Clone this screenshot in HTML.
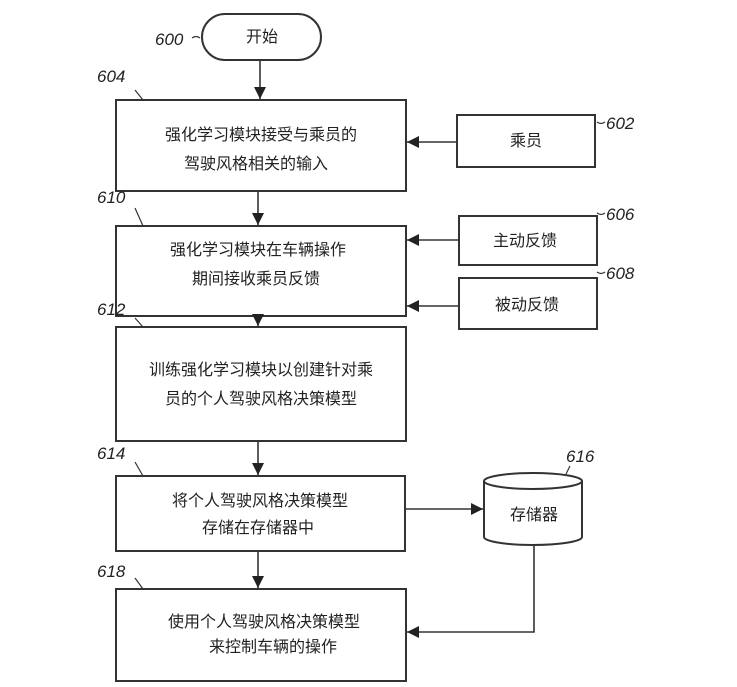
<!DOCTYPE html>
<html><head><meta charset="utf-8"><style>
body{margin:0;background:#fff;}
svg text{font-family:"Liberation Sans","Noto Sans CJK SC",sans-serif;fill:#222;}
.t{font-size:16px;text-anchor:middle;}
.n{font-size:17px;font-style:italic;}
</style></head><body>
<svg width="737" height="682" viewBox="0 0 737 682" xmlns="http://www.w3.org/2000/svg">
<defs><marker id="a" viewBox="0 0 10 10" refX="10" refY="5" markerWidth="12" markerHeight="12" markerUnits="userSpaceOnUse" orient="auto"><path d="M0,0L10,5L0,10z" fill="#222"/></marker></defs>
<g stroke="#333" stroke-width="2" fill="none">
<rect x="202" y="14" width="119" height="46" rx="23"/>
<rect x="116" y="100" width="290" height="91"/>
<rect x="457" y="115" width="138" height="52"/>
<rect x="116" y="226" width="290" height="90"/>
<rect x="459" y="216" width="138" height="49"/>
<rect x="459" y="278" width="138" height="51"/>
<rect x="116" y="327" width="290" height="114"/>
<rect x="116" y="476" width="289" height="75"/>
<rect x="116" y="589" width="290" height="92"/>
<path d="M484,481 V537 A49,8 0 0 0 582,537 V481"/>
<ellipse cx="533" cy="481" rx="49" ry="8"/>
<g stroke-width="1.6" marker-end="url(#a)">
<line x1="260" y1="60" x2="260" y2="99"/>
<line x1="258" y1="191" x2="258" y2="225"/>
<line x1="258" y1="316" x2="258" y2="326"/>
<line x1="258" y1="441" x2="258" y2="475"/>
<line x1="258" y1="551" x2="258" y2="588"/>
<line x1="457" y1="142" x2="407" y2="142"/>
<line x1="459" y1="240" x2="407" y2="240"/>
<line x1="459" y1="306" x2="407" y2="306"/>
<line x1="405" y1="509" x2="483" y2="509"/>
<polyline points="534,545 534,632 407,632"/>
</g>
<g stroke-width="1.2">
<path d="M200,38 q-4,-3 -8,0"/>
<path d="M135,90 l8,10"/><path d="M135,208 l8,18"/><path d="M135,318 l8,9"/><path d="M135,462 l8,14"/><path d="M135,578 l8,11"/>
<path d="M597,122 q4,3 8,0"/><path d="M597,213 q4,3 8,0"/><path d="M597,272 q4,3 8,0"/><path d="M570,466 l-4,8"/>
</g>
</g>
<text class="t" x="261" y="140">强化学习模块接受与乘员的</text>
<text class="t" x="256" y="169">驾驶风格相关的输入</text>
<text class="t" x="262" y="42">开始</text>
<text class="t" x="526" y="146">乘员</text>
<text class="t" x="258" y="255">强化学习模块在车辆操作</text>
<text class="t" x="256" y="284">期间接收乘员反馈</text>
<text class="t" x="525" y="246">主动反馈</text>
<text class="t" x="527" y="310">被动反馈</text>
<text class="t" x="261" y="375">训练强化学习模块以创建针对乘</text>
<text class="t" x="261" y="404">员的个人驾驶风格决策模型</text>
<text class="t" x="260" y="506">将个人驾驶风格决策模型</text>
<text class="t" x="258" y="533">存储在存储器中</text>
<text class="t" x="534" y="520">存储器</text>
<text class="t" x="264" y="627">使用个人驾驶风格决策模型</text>
<text class="t" x="273" y="652">来控制车辆的操作</text>
<text class="n" x="155" y="45">600</text>
<text class="n" x="97" y="82">604</text>
<text class="n" x="97" y="203">610</text>
<text class="n" x="97" y="315">612</text>
<text class="n" x="97" y="459">614</text>
<text class="n" x="97" y="577">618</text>
<text class="n" x="606" y="129">602</text>
<text class="n" x="606" y="220">606</text>
<text class="n" x="606" y="279">608</text>
<text class="n" x="566" y="462">616</text>
</svg>
</body></html>
